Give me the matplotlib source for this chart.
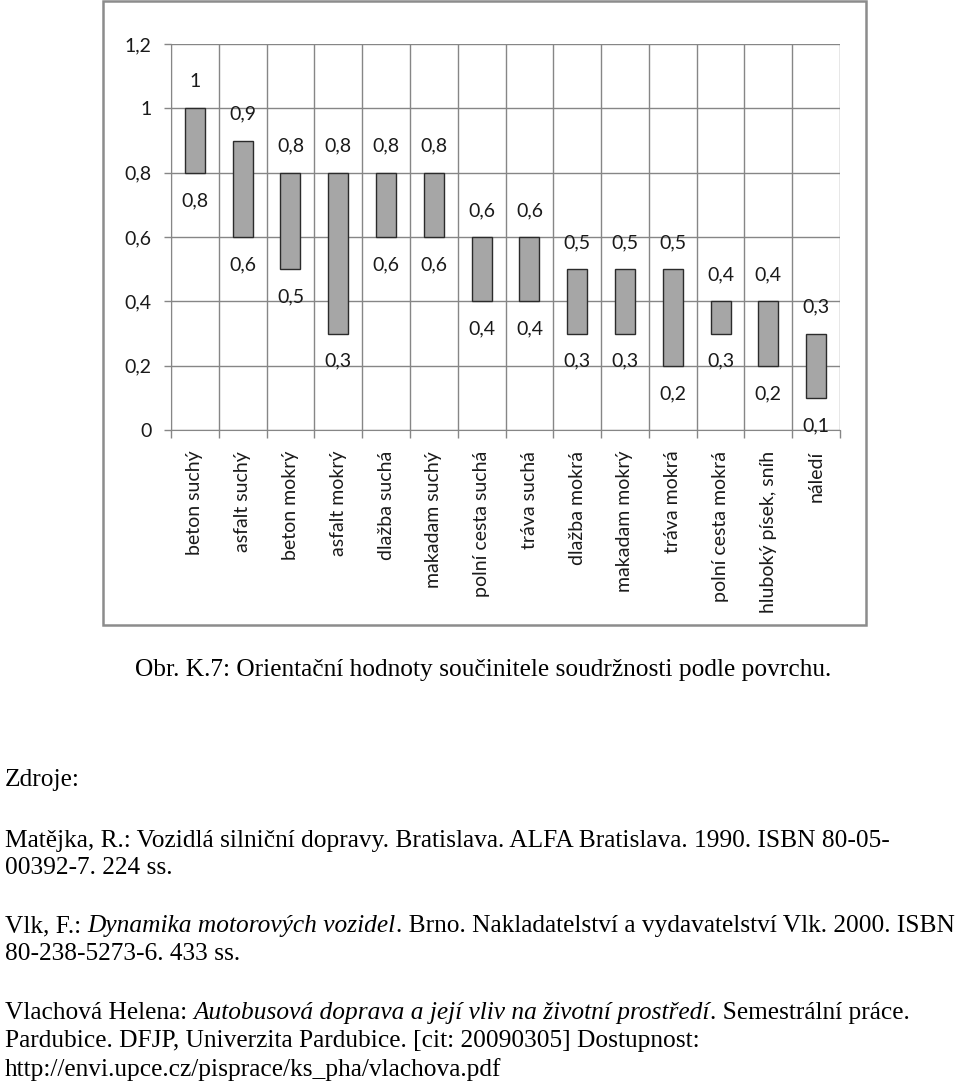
import matplotlib
matplotlib.use("Agg")
import matplotlib.pyplot as plt
from matplotlib.patches import Rectangle
import numpy as np

# ---- data ----
categories = ["beton suchý", "asfalt suchý", "beton mokrý", "asfalt mokrý",
              "dlažba suchá", "makadam suchý", "polní cesta suchá", "tráva suchá",
              "dlažba mokrá", "makadam mokrý", "tráva mokrá", "polní cesta mokrá",
              "hluboký písek, sníh", "náledí"]
high = [1.0, 0.9, 0.8, 0.8, 0.8, 0.8, 0.6, 0.6, 0.5, 0.5, 0.5, 0.4, 0.4, 0.3]
low = [0.8, 0.6, 0.5, 0.3, 0.6, 0.6, 0.4, 0.4, 0.3, 0.3, 0.2, 0.3, 0.2, 0.1]
yticks = [0, 0.2, 0.4, 0.6, 0.8, 1.0, 1.2]

caption = "Obr. K.7: Orientační hodnoty součinitele soudržnosti podle povrchu."
sources_title = "Zdroje:"
ref_lines = [
    [("Matějka, R.: Vozidlá silniční dopravy. Bratislava. ALFA Bratislava. 1990. ISBN 80-05-", "normal")],
    [("00392-7. 224 ss.", "normal")],
    [("Vlk, F.: ", "normal"), ("Dynamika motorových vozidel", "italic"),
     (". Brno. Nakladatelství a vydavatelství Vlk. 2000. ISBN", "normal")],
    [("80-238-5273-6. 433 ss.", "normal")],
    [("Vlachová Helena: ", "normal"), ("Autobusová doprava a její vliv na životní prostředí", "italic"),
     (". Semestrální práce.", "normal")],
    [("Pardubice. DFJP, Univerzita Pardubice. [cit: 20090305] Dostupnost:", "normal")],
    [("http://envi.upce.cz/pisprace/ks_pha/vlachova.pdf", "normal")],
]
ref_baselines = [847, 874, 932, 960, 1019, 1047, 1076]


def fmt(v):
    s = ("%.1f" % v).replace(".", ",")
    return "1" if s == "1,0" else ("0" if s == "0,0" else s)


W, H = 960, 1090
fig = plt.figure(figsize=(W / 100, H / 100), dpi=100)
fig.patch.set_facecolor("white")

chart_font = ["Lato", "DejaVu Sans"]
serif = ["Liberation Serif", "DejaVu Serif"]

# chart frame
fig.patches.append(Rectangle((103 / W, 1 - 625 / H), (866 - 103) / W, 624 / H,
                             transform=fig.transFigure, fill=False,
                             edgecolor="#8c8c8c", lw=1.8))

ax = fig.add_axes([171 / W, 1 - 430 / H, (840 - 171) / W, (430 - 44) / H])
x = np.arange(len(categories))
heights = [h - l for h, l in zip(high, low)]
ax.bar(x, heights, bottom=low, width=0.42, color="#a6a6a6",
       edgecolor="#2b2b2b", lw=1.0, zorder=3)

ax.set_xlim(-0.5, len(categories) - 0.5)
ax.set_ylim(0, 1.2)
ax.set_yticks(yticks)
ax.set_yticklabels([fmt(v) for v in yticks], fontsize=14, family=chart_font, color="#1a1a1a")
ax.set_xticks(x)
ax.set_xticklabels(categories, rotation=90, fontsize=14, family=chart_font,
                   color="#1a1a1a", va="top", ha="center")
ax.set_xticks(np.arange(-0.5, len(categories), 1.0), minor=True)
ax.tick_params(axis="x", which="major", length=0, pad=15)
ax.tick_params(axis="x", which="minor", length=6, color="#868686", width=1)
ax.tick_params(axis="y", length=5, color="#868686", width=1, pad=9)
ax.grid(True, axis="y", color="#868686", lw=1, zorder=0)
ax.grid(True, axis="x", which="minor", color="#868686", lw=1, zorder=0)
for s in ax.spines.values():
    s.set_visible(False)
ax.spines["left"].set_visible(True)
ax.spines["left"].set_color("#868686")
ax.spines["bottom"].set_visible(True)
ax.spines["bottom"].set_color("#868686")

for xi, h, l in zip(x, high, low):
    ax.annotate(fmt(h), (xi, h), xytext=(0, 19), textcoords="offset points",
                ha="center", va="center", fontsize=14, family=chart_font, color="#1a1a1a")
    ax.annotate(fmt(l), (xi, l), xytext=(0, -20), textcoords="offset points",
                ha="center", va="center", fontsize=14, family=chart_font, color="#1a1a1a")

# text below chart
fs = 18.3
fig.text(135 / W, 1 - 676 / H, caption, fontsize=fs, family=serif,
         va="baseline", ha="left", color="black")
fig.text(5 / W, 1 - 786 / H, sources_title, fontsize=fs, family=serif,
         va="baseline", ha="left", color="black")

renderer = fig.canvas.get_renderer()
for pieces, yp in zip(ref_lines, ref_baselines):
    xp = 5.0
    for txt, style in pieces:
        t = fig.text(xp / W, 1 - yp / H, txt, fontsize=fs, family=serif, style=style,
                     va="baseline", ha="left", color="black")
        bb = t.get_window_extent(renderer)
        xp += bb.width

fig.savefig("out.png", dpi=100, facecolor="white")
